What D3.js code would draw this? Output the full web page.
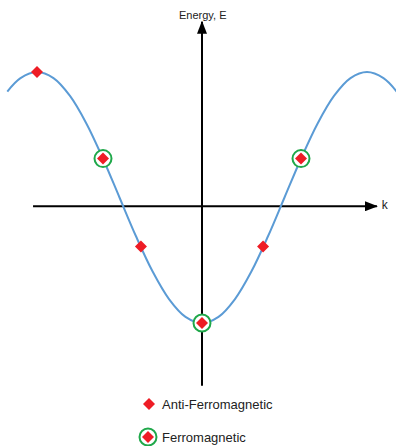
<!DOCTYPE html>
<html>
<head>
<meta charset="utf-8">
<script src="https://cdn.jsdelivr.net/npm/d3@7"></script>
<style>
  html, body { margin: 0; padding: 0; background: #fff; }
  svg { display: block; }
  text { font-family: "Liberation Sans", Arial, sans-serif; fill: #222; }
</style>
</head>
<body>
<svg id="chart" width="396" height="446"></svg>
<script>
// Dispersion curve E(k), k in units of pi/a
const curveK = [-1.18, -1.1, -1.0, -0.9, -0.8, -0.7, -0.6, -0.5, -0.4, -0.3, -0.2, -0.1, 0,
                0.1, 0.2, 0.3, 0.4, 0.5, 0.6, 0.7, 0.8, 0.9, 1.0, 1.1, 1.18];
const curveE = [0.914, 1.021, 1.07, 1.021, 0.879, 0.658, 0.379, 0.07, -0.239, -0.518, -0.739, -0.881, -0.93,
                -0.881, -0.739, -0.518, -0.239, 0.07, 0.379, 0.658, 0.879, 1.021, 1.07, 1.021, 0.914];

// Anti-ferromagnetic states
const antiK = [-1.0, -0.37, 0.37];
const antiE = [1.07, -0.32, -0.32];

// Ferromagnetic states
const ferroK = [-0.6, 0, 0.6];
const ferroE = [0.38, -0.93, 0.38];

const axisLabels = { y: "Energy, E", x: "k" };
const legendLabels = ["Anti-Ferromagnetic", "Ferromagnetic"];

const svg = d3.select("#chart");

const x = d3.scaleLinear().domain([-1.2, 1.2]).range([4, 400]);
const y = d3.scaleLinear().domain([-0.93, 1.07]).range([323, 72]);

const RED = "#ee1c25", GREEN = "#1fa84a", BLUE = "#5b9bd5";

// Arrowhead marker for both axes
const defs = svg.append("defs");
defs.append("marker")
  .attr("id", "arrow")
  .attr("viewBox", "0 0 13 10")
  .attr("refX", 12).attr("refY", 5)
  .attr("markerWidth", 13).attr("markerHeight", 10)
  .attr("markerUnits", "userSpaceOnUse")
  .attr("orient", "auto")
  .append("path").attr("d", "M0,0 L13,5 L0,10 Z").attr("fill", "#000");

// horizontal k axis
svg.append("line")
  .attr("x1", x(-1.024)).attr("x2", x(1.06))
  .attr("y1", y(0)).attr("y2", y(0))
  .attr("stroke", "#000").attr("stroke-width", 2)
  .attr("marker-end", "url(#arrow)");

// vertical energy axis
svg.append("line")
  .attr("x1", x(0)).attr("x2", x(0))
  .attr("y1", y(-1.43)).attr("y2", y(1.47))
  .attr("stroke", "#000").attr("stroke-width", 2)
  .attr("marker-end", "url(#arrow)");

svg.append("text")
  .attr("x", x(0) - 23).attr("y", 19)
  .attr("font-size", 11)
  .text(axisLabels.y);

svg.append("text")
  .attr("x", x(1.09)).attr("y", y(0) + 3)
  .attr("font-size", 12)
  .text(axisLabels.x);

// Band curve
const pts = curveK.map((k, i) => [k, curveE[i]]);
svg.append("path")
  .datum(pts)
  .attr("fill", "none")
  .attr("stroke", BLUE)
  .attr("stroke-width", 2)
  .attr("d", d3.line().x(d => x(d[0])).y(d => y(d[1])).curve(d3.curveCatmullRom.alpha(0.5)));

const diamond = d3.symbol().type(d3.symbolSquare).size(72);

// Ferromagnetic rings
svg.selectAll(".ring")
  .data(ferroK.map((k, i) => [k, ferroE[i]]))
  .join("circle")
  .attr("cx", d => x(d[0])).attr("cy", d => y(d[1]))
  .attr("r", 8.5)
  .attr("fill", "#fff")
  .attr("stroke", GREEN).attr("stroke-width", 2);

// Red diamonds for every state
const allStates = antiK.map((k, i) => [k, antiE[i]]).concat(ferroK.map((k, i) => [k, ferroE[i]]));
svg.selectAll(".state")
  .data(allStates)
  .join("path")
  .attr("d", diamond)
  .attr("transform", d => `translate(${x(d[0])},${y(d[1])}) rotate(45)`)
  .attr("fill", RED);

// Legend
const lg = svg.append("g");
lg.append("path")
  .attr("d", diamond)
  .attr("transform", "translate(149,404) rotate(45)")
  .attr("fill", RED);
lg.append("text").attr("x", 162).attr("y", 409).attr("font-size", 13).text(legendLabels[0]);

lg.append("circle").attr("cx", 148).attr("cy", 437).attr("r", 8.5)
  .attr("fill", "#fff").attr("stroke", GREEN).attr("stroke-width", 2);
lg.append("path")
  .attr("d", diamond)
  .attr("transform", "translate(148,437) rotate(45)")
  .attr("fill", RED);
lg.append("text").attr("x", 162).attr("y", 442).attr("font-size", 13).text(legendLabels[1]);
</script>
</body>
</html>
